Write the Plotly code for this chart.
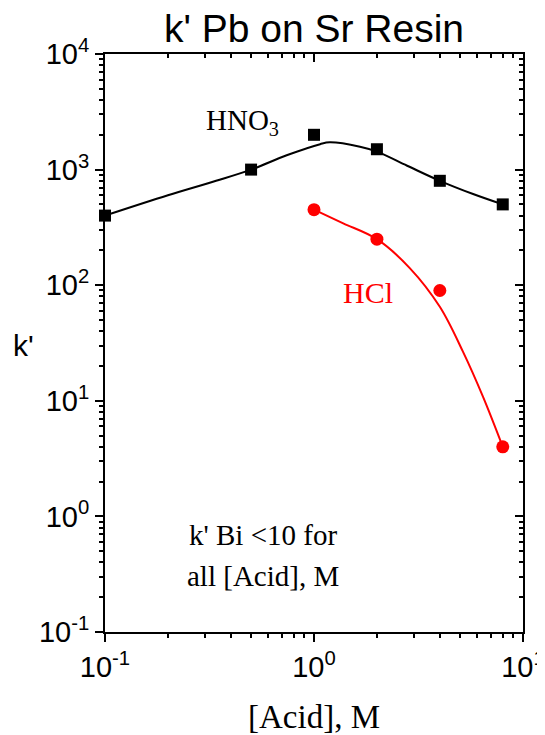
import numpy as np
import plotly.graph_objects as go

# ---- data ----
hno3_x = [0.1, 0.5, 1, 2, 4, 8]
hno3_y = [400, 1000, 2000, 1500, 800, 500]
hcl_x = [1, 2, 4, 8]
hcl_y = [450, 250, 90, 4]

# smooth fit curves as drawn in the reference
hno3_fit_x = [0.1, 0.2, 0.34, 0.5, 0.74, 1.07, 1.19, 1.66, 2.0, 2.79, 4.0, 5.77, 8.0]
hno3_fit_y = [400, 600, 800, 1000, 1330, 1660, 1720, 1578, 1430, 1080, 800, 615, 500]
hcl_fit_x = [1, 1.38, 2, 2.88, 4, 5.16, 6.44, 8]
hcl_fit_y = [450, 343, 250, 140, 65, 26.6, 10.8, 4]

x_tickvals = [0.1, 1, 10]
x_ticktext = ["10<sup>-1</sup>", "10<sup>0</sup>", "10<sup>1</sup>"]
y_tickvals = [0.1, 1, 10, 100, 1000, 10000]
y_ticktext = ["10<sup>-1</sup>", "10<sup>0</sup>", "10<sup>1</sup>",
              "10<sup>2</sup>", "10<sup>3</sup>", "10<sup>4</sup>"]
x_minor = [k * 10.0 ** d for d in (-1, 0) for k in range(2, 10)]
y_minor = [k * 10.0 ** d for d in (-1, 0, 1, 2, 3) for k in range(2, 10)]

SANS = "Liberation Sans, Arial, sans-serif"
SERIF = "Liberation Serif, Times New Roman, serif"

# page body adds an 8px offset to the figure
OFF = 8
W, H = 545, 735 - OFF

fig = go.Figure()
fig.add_trace(go.Scatter(x=hno3_fit_x, y=hno3_fit_y, mode="lines",
                         line=dict(color="black", width=2, shape="spline"),
                         hoverinfo="skip", showlegend=False))
fig.add_trace(go.Scatter(x=hcl_fit_x, y=hcl_fit_y, mode="lines",
                         line=dict(color="#ff0000", width=2, shape="spline"),
                         hoverinfo="skip", showlegend=False))
fig.add_trace(go.Scatter(x=hno3_x, y=hno3_y, mode="markers",
                         marker=dict(symbol="square", size=12, color="black"),
                         showlegend=False, cliponaxis=False))
fig.add_trace(go.Scatter(x=hcl_x, y=hcl_y, mode="markers",
                         marker=dict(symbol="circle", size=13, color="#ff0000"),
                         showlegend=False, cliponaxis=False))
# dummy trace so the mirrored (top/right) axes are drawn
fig.add_trace(go.Scatter(x=[1], y=[1], xaxis="x2", yaxis="y2", mode="markers",
                         marker=dict(opacity=0), hoverinfo="skip", showlegend=False))

common = dict(type="log", showgrid=False, zeroline=False, showline=True,
              linecolor="black", linewidth=2, tickcolor="black", tickwidth=2,
              ticklen=8, automargin=False)

fig.update_layout(
    width=W, height=H,
    margin=dict(l=105 - OFF, r=W - (523 - OFF), t=54 - OFF, b=103, autoexpand=False),
    paper_bgcolor="white", plot_bgcolor="white",
    font=dict(family=SANS, color="black"),
    title=dict(text="k' Pb on Sr Resin", font=dict(family=SANS, size=39, color="black"),
               x=0.5, xref="paper", xanchor="center", y=1 - 20 / H, yanchor="middle"),
    xaxis=dict(**common, range=[-1, 1], ticks="outside", tickmode="array",
               tickvals=x_tickvals, ticktext=x_ticktext,
               tickfont=dict(family=SANS, size=29, color="black"),
               minor=dict(tickmode="array", tickvals=x_minor, ticks="outside",
                          ticklen=4, tickwidth=2, tickcolor="black", showgrid=False)),
    yaxis=dict(**common, range=[-1, 4], ticks="outside", tickmode="array",
               tickvals=y_tickvals, ticktext=y_ticktext,
               tickfont=dict(family=SANS, size=29, color="black"),
               minor=dict(tickmode="array", tickvals=y_minor, ticks="outside",
                          ticklen=4, tickwidth=2, tickcolor="black", showgrid=False)),
    xaxis2=dict(**common, range=[-1, 1], overlaying="x", side="top", anchor="y2",
                ticks="inside", tickmode="array", tickvals=x_tickvals,
                showticklabels=False,
                minor=dict(tickmode="array", tickvals=x_minor, ticks="inside",
                           ticklen=4, tickwidth=2, tickcolor="black", showgrid=False)),
    yaxis2=dict(**common, range=[-1, 4], overlaying="y", side="right", anchor="x2",
                ticks="inside", tickmode="array", tickvals=y_tickvals,
                showticklabels=False,
                minor=dict(tickmode="array", tickvals=y_minor, ticks="inside",
                           ticklen=4, tickwidth=2, tickcolor="black", showgrid=False)),
)

annots = [
    dict(text="HNO<sub>3</sub>", x=np.log10(0.453), y=np.log10(2580), xref="x", yref="y",
         font=dict(family=SERIF, size=29, color="black")),
    dict(text="HCl", x=0.258, y=1.933, xref="x", yref="y",
         font=dict(family=SERIF, size=30, color="#ff0000")),
    dict(text="k' Bi <10 for", x=-0.244, y=-0.161, xref="x", yref="y",
         font=dict(family=SERIF, size=29, color="black")),
    dict(text="all [Acid], M", x=-0.244, y=-0.516, xref="x", yref="y",
         font=dict(family=SERIF, size=29, color="black")),
    dict(text="k'", x=(23 - 105) / 418, y=(632 - 345) / 578, xref="paper", yref="paper",
         font=dict(family=SANS, size=30, color="black")),
    dict(text="[Acid], M", x=0.5, y=(632 - 717) / 578, xref="paper", yref="paper",
         font=dict(family=SERIF, size=33, color="black")),
]
for a in annots:
    fig.add_annotation(showarrow=False, xanchor="center", yanchor="middle", **a)

fig.write_html("out.html")
